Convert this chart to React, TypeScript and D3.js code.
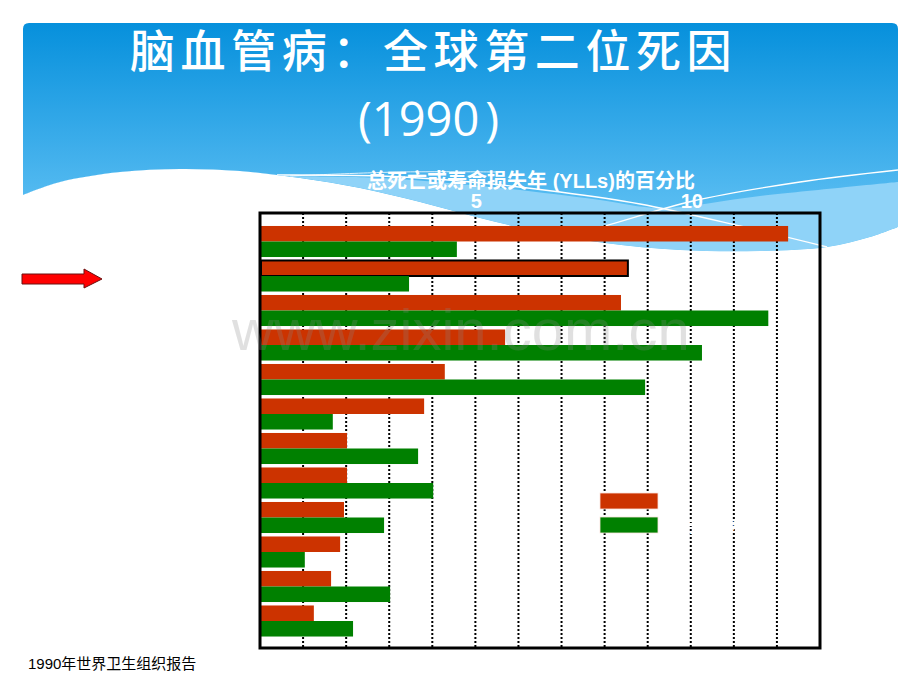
import React from "react";
import * as d3 from "d3";

// ---- data ----
const categories = [
  "缺血性心脏病",
  "脑血管病",
  "下呼吸道感染",
  "腹泻病",
  "围产期疾病",
  "慢性阻塞性肺病",
  "结核病",
  "麻疹",
  "道路交通伤害",
  "肺癌",
  "疟疾",
  "自伤",
];
const deathsPct = [12.26, 8.54, 8.38, 5.69, 4.29, 3.81, 2.02, 2.02, 1.95, 1.86, 1.65, 1.25];
const yllsPct = [4.57, 3.46, 11.8, 10.26, 8.94, 1.69, 3.67, 4.02, 2.88, 1.04, 3.02, 2.16];
const seriesKeys = ["deaths", "ylls"];
const seriesColors = ["#cc3300", "#008000"];
const gridValues = [1, 2, 3, 4, 5, 6, 7, 8, 9, 10, 11, 12];
const tickLabels = [5, 10];
const highlighted = "脑血管病";

const titleLine1 = "脑血管病：全球第二位死因";
const axisTitle = "总死亡或寿命损失年  (YLLs)的百分比";
const sourceNote = "1990年世界卫生组织报告";

// ---- decoration geometry ----
const waveBottom: [number, number][] = [
  [23, 195], [60, 182], [120, 172], [180, 169], [240, 171], [300, 178],
  [360, 188], [420, 202], [480, 218], [540, 232], [605, 243], [680, 250],
  [760, 251], [827, 247], [870, 237], [898, 227],
];
const lensTop: [number, number][] = [
  [270, 176], [380, 178], [500, 188], [600, 200], [660, 208], [760, 196], [898, 182],
];
const lineA: [number, number][] = [[520, 250], [605, 226], [693, 201], [800, 182], [898, 170]];
const lineB: [number, number][] = [[277, 175], [380, 176], [460, 181], [560, 192], [640, 204], [740, 226], [827, 247]];
const lineC: [number, number][] = [[290, 176], [400, 172], [500, 172]];

export default function App() {
  const W = 920, H = 690;
  const plot = { left: 260, right: 820, top: 213, bottom: 648 };
  const x = d3.scaleLinear().domain([0, 13]).range([plot.left, plot.right]);
  const y = d3.scaleBand<string>().domain(categories).range([224.25, 638.25]).paddingInner(0.1).paddingOuter(0.05);
  const ySub = d3.scaleBand<string>().domain(seriesKeys).range([0, y.bandwidth()]);

  const smooth = d3.line().curve(d3.curveCatmullRom.alpha(0.5));
  const waveStr = smooth(waveBottom.slice().reverse() as [number, number][])!;
  const bannerPath =
    `M898,227 L898,29 Q898,23 892,23 L29,23 Q23,23 23,29 L23,195 ` +
    smooth(waveBottom)!.replace(/^M[^CL]*/, "L23,195") + " Z";
  const lensPath =
    smooth(lensTop)! + " L898,227 " + waveStr.replace(/^M/, "L") + " Z";

  const rows = categories.map((c, i) => ({ c, vals: [deathsPct[i], yllsPct[i]] }));

  return (
    <svg width={W} height={H} style={{ position: "fixed", left: 0, top: 0, background: "#fff" }}
      fontFamily="'Liberation Sans', Arial, 'Noto Sans CJK SC', sans-serif">
      <defs>
        <linearGradient id="bg" x1="0" y1="23" x2="0" y2="250" gradientUnits="userSpaceOnUse">
          <stop offset="0" stopColor="#0690dc" />
          <stop offset="0.55" stopColor="#3eaeeb" />
          <stop offset="1" stopColor="#6cc8f7" />
        </linearGradient>
        <clipPath id="banner"><path d={bannerPath} /></clipPath>
      </defs>
      <rect width={W} height={H} fill="#fff" />
      <path d={bannerPath} fill="url(#bg)" />
      <g clipPath="url(#banner)">
        <path d={lensPath} fill="#8fd3f8" />
        <path d={smooth(lineA)!} fill="none" stroke="#fff" strokeWidth={1.3} />
        <path d={smooth(lineB)!} fill="none" stroke="#fff" strokeWidth={1.3} />
        <path d={smooth(lineC)!} fill="none" stroke="#fff" strokeWidth={1} opacity={0.8} />
      </g>

      {/* titles */}
      <text x={130} y={68} fill="#fff" fontSize={45} letterSpacing={5.6} fontWeight={500}
        fontFamily="'Noto Sans CJK SC', sans-serif">{titleLine1}</text>
      <text x={358} y={136} fill="#fff" fontSize={47} fontFamily="'Open Sans', sans-serif">
        (1990<tspan dx={6}>)</tspan>
      </text>
      <text x={531} y={188} fill="#fff" fontSize={20} fontWeight="bold" textAnchor="middle">{axisTitle}</text>
      {tickLabels.map((t) => (
        <text key={t} x={x(t) + 1} y={208} fill="#fff" fontSize={20} fontWeight="bold" textAnchor="middle">{t}</text>
      ))}

      {/* grid */}
      {gridValues.map((g) => (
        <line key={g} x1={x(g)} x2={x(g)} y1={plot.top} y2={plot.bottom}
          stroke="#000" strokeWidth={2} strokeDasharray="2,2" />
      ))}

      {/* bars */}
      {rows.map((r) => (
        <g key={r.c} transform={`translate(0,${y(r.c)})`}>
          {r.vals.map((v, k) => (
            <rect key={k} x={x(0) + 1} y={ySub(seriesKeys[k])} width={x(v) - x(0) - 1} height={ySub.bandwidth()}
              fill={seriesColors[k]}
              stroke={r.c === highlighted && k === 0 ? "#000" : "none"}
              strokeWidth={r.c === highlighted && k === 0 ? 2 : 0} />
          ))}
        </g>
      ))}

      {/* box */}
      <rect x={plot.left} y={plot.top} width={plot.right - plot.left} height={plot.bottom - plot.top}
        fill="none" stroke="#000" strokeWidth={3} />

      {/* legend */}
      {seriesColors.map((c, k) => (
        <rect key={k} x={600} y={493 + k * 24} width={58} height={16} fill={c} stroke="#fbe3dc" strokeWidth={0.8} />
      ))}
      <text x={682} y={532} fill="#fff" fontSize={15}>寿命损失年</text>

      {/* watermark */}
      <text x={232} y={350} fill="#888" opacity={0.25} fontSize={58}>www.zixin.com.cn</text>

      {/* arrow */}
      <path d="M22,274 L84,274 L84,269 L102,279 L84,288 L84,284 L22,284 Z" fill="#ff0000" stroke="#6b1010" strokeWidth={1} />

      <text x={28} y={669} fontSize={15} fill="#000">{sourceNote}</text>
    </svg>
  );
}
